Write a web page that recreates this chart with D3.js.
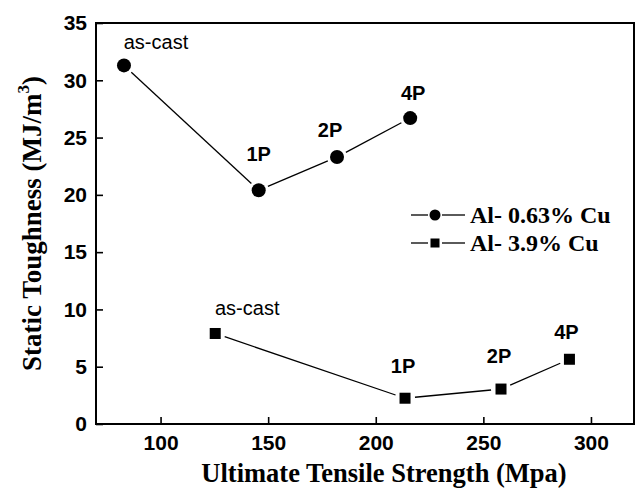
<!DOCTYPE html>
<html>
<head>
<meta charset="utf-8">
<script src="https://cdn.jsdelivr.net/npm/d3@7"></script>
<style>
  body { margin: 0; background: #fff; }
  svg { display: block; }
</style>
</head>
<body>
<script>
// values
var labels = ["as-cast", "1P", "2P", "4P"];
var uts063 = [83, 145.6, 182, 216];
var tough063 = [31.3, 20.4, 23.3, 26.7];
var uts39 = [125.4, 213.6, 258.2, 290];
var tough39 = [7.9, 2.25, 3.05, 5.65];
var xTicks = [100, 150, 200, 250, 300];
var yTicks = [0, 5, 10, 15, 20, 25, 30, 35];
var seriesNames = ["Al- 0.63% Cu", "Al- 3.9% Cu"];

var width = 636, height = 493;
var margin = {top: 23, right: 2, bottom: 69, left: 96};

var svg = d3.select("body").append("svg")
  .attr("width", width)
  .attr("height", height);

var x = d3.scaleLinear().domain([70, 320]).range([margin.left, width - margin.right]);
var y = d3.scaleLinear().domain([0, 35]).range([height - margin.bottom, margin.top]);

var tickFont = "'Liberation Sans', Arial, sans-serif";
var serifFont = "'Liberation Serif', 'Times New Roman', serif";

// axes, ticks point inward
var xAxis = svg.append("g")
  .attr("transform", "translate(0," + y(0) + ")")
  .call(d3.axisBottom(x).tickValues(xTicks).tickSize(-7).tickPadding(11).tickFormat(d3.format("d")));
var yAxis = svg.append("g")
  .attr("transform", "translate(" + x(70) + ",0)")
  .call(d3.axisLeft(y).tickValues(yTicks).tickSize(-7).tickPadding(9).tickFormat(d3.format("d")));

[xAxis, yAxis].forEach(function(g) {
  g.select(".domain").remove();
  g.selectAll(".tick line").attr("stroke", "#000").attr("stroke-width", 1.6);
  g.selectAll(".tick text")
    .attr("fill", "#000")
    .style("font-family", tickFont)
    .style("font-weight", "bold")
    .style("font-size", "21px");
});

// frame
svg.append("rect")
  .attr("x", x(70))
  .attr("y", y(35))
  .attr("width", x(320) - x(70))
  .attr("height", y(0) - y(35))
  .attr("fill", "none")
  .attr("stroke", "#000")
  .attr("stroke-width", 2);

// axis titles
svg.append("text")
  .attr("x", 384)
  .attr("y", 482)
  .attr("text-anchor", "middle")
  .style("font-family", serifFont)
  .style("font-weight", "bold")
  .style("font-size", "26.5px")
  .text("Ultimate Tensile Strength (Mpa)");

var yt = svg.append("text")
  .attr("transform", "translate(41," + ((y(0) + y(35)) / 2) + ") rotate(-90)")
  .attr("text-anchor", "middle")
  .style("font-family", serifFont)
  .style("font-weight", "bold")
  .style("font-size", "27px");
yt.append("tspan").text("Static Toughness (MJ/m");
yt.append("tspan").attr("dy", -12).style("font-size", "17px").text("3");
yt.append("tspan").attr("dy", 12).text(")");

// connecting lines with a gap around each marker, like the original
function drawGappedLine(xs, ys, gap) {
  for (var i = 0; i < xs.length - 1; i++) {
    var x1 = x(xs[i]), y1 = y(ys[i]), x2 = x(xs[i + 1]), y2 = y(ys[i + 1]);
    var dx = x2 - x1, dy = y2 - y1, len = Math.sqrt(dx * dx + dy * dy);
    var ux = dx / len, uy = dy / len;
    svg.append("line")
      .attr("x1", x1 + ux * gap).attr("y1", y1 + uy * gap)
      .attr("x2", x2 - ux * gap).attr("y2", y2 - uy * gap)
      .attr("stroke", "#000")
      .attr("stroke-width", 1.3);
  }
}

drawGappedLine(uts063, tough063, 10);
drawGappedLine(uts39, tough39, 10);

svg.selectAll(".circ").data(uts063).enter().append("circle")
  .attr("cx", function(d) { return x(d); })
  .attr("cy", function(d, i) { return y(tough063[i]); })
  .attr("r", 7)
  .attr("fill", "#000");

svg.selectAll(".sq").data(uts39).enter().append("rect")
  .attr("x", function(d) { return x(d) - 5.5; })
  .attr("y", function(d, i) { return y(tough39[i]) - 5.5; })
  .attr("width", 11)
  .attr("height", 11)
  .attr("fill", "#000");

// point labels (offsets in px from the marker)
var offs063 = [[32, -16], [0, -29], [-7, -20], [3, -18]];
var offs39 = [[32, -18], [-2, -25], [-2, -26], [-3, -20]];

function drawLabels(xs, ys, offs) {
  labels.forEach(function(lab, i) {
    svg.append("text")
      .attr("x", x(xs[i]) + offs[i][0])
      .attr("y", y(ys[i]) + offs[i][1])
      .attr("text-anchor", "middle")
      .style("font-family", tickFont)
      .style("font-weight", i === 0 ? "normal" : "bold")
      .style("font-size", "20px")
      .text(lab);
  });
}
drawLabels(uts063, tough063, offs063);
drawLabels(uts39, tough39, offs39);

// legend
var legend = svg.append("g").attr("transform", "translate(411,215)");
seriesNames.forEach(function(name, i) {
  var g = legend.append("g").attr("transform", "translate(0," + i * 28 + ")");
  g.append("line").attr("x1", 0).attr("x2", 17).attr("stroke", "#000").attr("stroke-width", 1.3);
  g.append("line").attr("x1", 31).attr("x2", 54).attr("stroke", "#000").attr("stroke-width", 1.3);
  if (i === 0) {
    g.append("circle").attr("cx", 24).attr("r", 5.5).attr("fill", "#000");
  } else {
    g.append("rect").attr("x", 19.5).attr("y", -4.5).attr("width", 9).attr("height", 9).attr("fill", "#000");
  }
  g.append("text")
    .attr("x", 59)
    .attr("y", 8)
    .style("font-family", serifFont)
    .style("font-weight", "bold")
    .style("font-size", "24px")
    .text(name);
});
</script>
</body>
</html>
